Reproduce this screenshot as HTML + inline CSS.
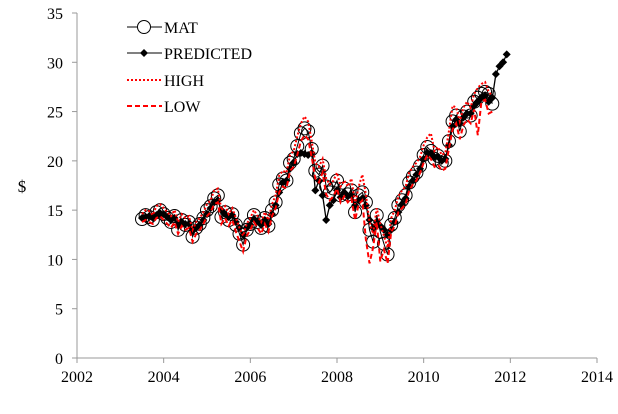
<!DOCTYPE html>
<html><head><meta charset="utf-8"><style>
body{margin:0;background:#fff;}
svg{display:block;font-family:"Liberation Serif",serif;}
</style></head><body>
<svg id="chart" width="618" height="414" viewBox="0 0 618 414" xmlns="http://www.w3.org/2000/svg">
<g id="axes"></g>
<g id="series"></g>
<g id="legend"></g>
</svg>
<script>
const xTicks=[2002,2004,2006,2008,2010,2012,2014];
const yTicks=[0,5,10,15,20,25,30,35];
const startYear=2003.5;
const mat=[14.1,14.5,14.3,14.0,14.8,15.0,
14.6,14.2,13.8,14.4,13.0,14.0,13.5,13.8,12.3,13.2,13.6,14.2,
15.0,15.4,16.2,16.5,14.3,14.8,14.0,14.6,13.5,12.6,11.5,13.0,
13.6,14.5,13.8,13.2,14.2,13.4,15.0,15.8,17.6,18.2,18.0,19.8,
20.2,21.5,22.8,23.3,23.0,21.2,19.0,18.6,19.5,17.4,16.8,17.2,
18.0,16.5,17.2,16.6,17.0,14.8,16.5,16.8,15.8,13.0,11.8,14.5,
12.8,11.6,10.5,13.5,14.2,15.5,16.0,16.5,17.8,18.4,18.8,19.5,
20.6,21.4,21.0,20.2,20.5,19.8,20.0,22.0,24.0,24.6,23.0,24.5,
25.0,24.6,26.0,26.4,26.8,27.0,26.8,25.8];
const predicted=[14.2,14.3,14.4,14.2,14.5,14.7,
14.6,14.3,14.0,14.2,13.5,13.8,13.6,13.6,12.9,13.2,13.5,14.0,
14.6,15.2,15.8,16.0,15.0,14.6,14.3,14.5,13.8,13.2,12.5,13.2,
13.5,14.1,13.9,13.5,14.0,13.6,14.6,15.5,16.8,17.8,18.0,19.2,
19.8,20.7,20.8,20.7,20.6,20.8,17.0,18.0,16.5,14.0,15.5,16.0,
17.0,16.3,16.8,16.4,16.5,15.5,16.0,16.2,15.5,14.0,13.2,13.8,
13.4,13.0,12.5,13.0,13.8,14.8,15.6,16.2,17.4,18.0,18.6,19.2,
20.2,20.8,20.8,20.4,20.4,20.0,20.2,21.6,23.5,24.2,23.8,24.4,
24.8,24.8,25.6,26.0,26.4,26.6,26.0,26.4,28.8,29.6,30.0,30.8];
const high=[14.6,15.0,14.9,14.5,15.4,15.6,
15.2,14.8,14.4,15.0,13.8,14.6,14.2,14.4,13.0,13.8,14.2,14.8,
15.6,16.0,17.0,17.2,15.0,15.4,14.6,15.2,14.2,13.2,12.4,13.6,
14.2,15.0,14.4,13.8,14.8,14.0,15.6,16.5,18.5,19.0,18.8,20.6,
21.0,22.5,23.8,24.5,24.0,22.0,19.8,19.4,20.2,18.2,17.6,18.0,
18.8,17.4,18.0,17.4,18.2,15.6,17.4,18.6,16.6,13.8,12.6,15.2,
13.6,12.4,11.2,14.2,15.0,16.4,17.0,17.4,18.8,19.4,19.8,20.4,
21.6,22.4,22.8,21.0,21.4,20.6,20.8,23.0,25.6,25.4,24.0,25.4,
26.0,25.4,26.8,27.4,27.8,28.0,27.0,26.6];
const low=[13.8,14.0,13.8,13.6,14.2,14.4,
14.0,13.6,13.2,13.8,12.6,13.4,13.0,13.2,11.8,12.6,13.0,13.6,
14.4,14.8,15.6,15.8,13.6,14.2,13.4,14.0,12.8,11.8,10.8,12.4,
13.0,13.8,13.2,12.6,13.6,12.8,14.4,15.2,16.8,17.4,17.2,19.0,
19.4,20.6,22.0,22.6,22.2,20.4,18.2,17.8,18.8,16.6,16.0,16.4,
17.2,15.8,16.4,15.8,16.2,14.0,15.6,16.0,12.0,9.6,11.2,13.8,
9.8,11.0,9.6,12.8,13.4,14.8,15.2,15.6,17.0,17.6,18.0,18.8,
19.8,20.6,20.2,19.4,19.6,19.0,19.2,21.2,23.2,23.8,22.2,23.6,
24.2,23.8,25.2,22.6,26.0,26.2,24.8,25.0];
const legendLabels=["MAT","PREDICTED","HIGH","LOW"];

const NS="http://www.w3.org/2000/svg";
const X0=77,X1=597,Y0=358,Y1=13;
function xs(v){return X0+(v-2002)/(2014-2002)*(X1-X0);}
function ys(v){return Y0-(v-0)/(35-0)*(Y0-Y1);}
function tY(i){return startYear+i/12;}
function mk(tag,attrs,parent){const e=document.createElementNS(NS,tag);for(const k in attrs)e.setAttribute(k,attrs[k]);parent.appendChild(e);return e;}
const axes=document.getElementById('axes'),series=document.getElementById('series'),legend=document.getElementById('legend');

let e=mk('line',{x1:X0,y1:Y0,x2:X1,y2:Y0,stroke:'#999','stroke-width':1},axes);


e=mk('line',{x1:X0,y1:Y0,x2:X0,y2:Y1,stroke:'#999','stroke-width':1},axes);


xTicks.forEach(t=>{
  const l=mk('line',{x1:xs(t),y1:Y0,x2:xs(t),y2:Y0+5,stroke:'#999'},axes);
  
  
  const tx=mk('text',{x:xs(t),y:Y0+24,'text-anchor':'middle','font-size':16,fill:'#000'},axes);
  tx.textContent=t;
  
  
});
yTicks.forEach(t=>{
  const l=mk('line',{x1:X0-5,y1:ys(t),x2:X0,y2:ys(t),stroke:'#999'},axes);
  
  
  const tx=mk('text',{x:X0-14,y:ys(t)+6,'text-anchor':'end','font-size':16,fill:'#000'},axes);
  tx.textContent=t;
  
  
});
e=mk('text',{x:22,y:192,'text-anchor':'middle','font-size':17,fill:'#000'},axes);
e.textContent='$';



function pts(arr){return arr.map((v,i)=>xs(tY(i)).toFixed(1)+','+ys(v).toFixed(1)).join(' ');}
// MAT
let p=mk('polyline',{points:pts(mat),fill:'none',stroke:'#000','stroke-width':1},series);


mat.forEach((v,i)=>{
  const c=mk('circle',{cx:xs(tY(i)),cy:ys(v),r:6.5,fill:'none',stroke:'#000','stroke-width':1},series);
  
  
});
// Predicted
p=mk('polyline',{points:pts(predicted),fill:'none',stroke:'#000','stroke-width':1.3},series);


predicted.forEach((v,i)=>{
  const x=xs(tY(i)),y=ys(v),s=4;
  const d=mk('polygon',{points:`${x},${y-s} ${x+s},${y} ${x},${y+s} ${x-s},${y}`,fill:'#000'},series);
  
  
});
p=mk('polyline',{points:pts(high),fill:'none',stroke:'#f00','stroke-width':2,'stroke-dasharray':'2,2'},series);


p=mk('polyline',{points:pts(low),fill:'none',stroke:'#f00','stroke-width':2,'stroke-dasharray':'5,3'},series);



// legend
const ly=[27,53,80,106];
legendLabels.forEach((lab,i)=>{
  const y=ly[i];
  let st={x1:127,y1:y,x2:162,y2:y,stroke:i<2?'#000':'#f00','stroke-width':i<2?1:2};
  if(i==2)st['stroke-dasharray']='2,2';
  if(i==3)st['stroke-dasharray']='5,3';
  const l=mk('line',st,legend);
  
  
  if(i==0){const c=mk('circle',{cx:144,cy:y,r:6.5,fill:'#fff',stroke:'#000'},legend);
    
    }
  if(i==1){const d=mk('polygon',{points:`144,${y-4} 148,${y} 144,${y+4} 140,${y}`,fill:'#000'},legend);
    
    }
  const t=mk('text',{x:164,y:y+6,'font-size':16,fill:'#000'},legend);
  t.textContent=lab;
  
  
});
</script>
</body></html>
